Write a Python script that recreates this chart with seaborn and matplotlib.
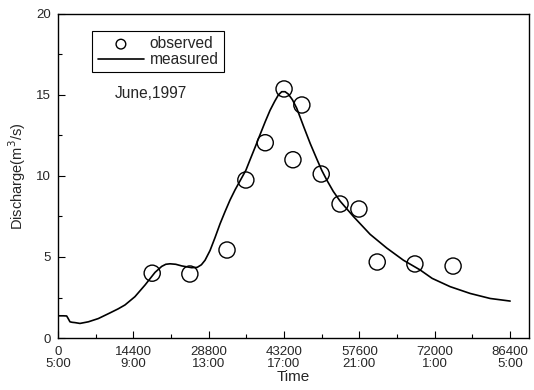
import matplotlib
matplotlib.use("Agg")
import matplotlib.pyplot as plt
from matplotlib.ticker import MultipleLocator
import seaborn as sns
import pandas as pd

# Observed discharge (time in seconds from 5:00, discharge in m^3/s)
obs_time = [18000, 25200, 32300, 35900, 39600, 43200, 44900, 46600,
            50300, 53900, 57500, 61000, 68200, 75500]
obs_q = [4.0, 3.95, 5.43, 9.75, 12.05, 15.37, 11.0, 14.38,
         10.12, 8.27, 7.96, 4.69, 4.57, 4.44]

# Measured hydrograph
meas_time = [0, 1000, 1660, 1950, 2290, 2700, 3250, 4200, 5800, 7700, 9940,
             11500, 12800, 14700, 16630, 18540, 19820, 20600, 21400, 22500,
             23640, 25550, 26600, 27400, 28100, 29055, 30010, 30970, 31920,
             32880, 33830, 34790, 35900, 36700, 37700, 38610, 39600, 40520,
             41400, 42110, 42750, 43400, 44020, 44800, 45620, 46300, 47000,
             48200, 49450, 50400, 51360, 52600, 53900, 56450, 59640, 62830,
             66010, 69200, 71500, 74930, 78760, 82580, 86400]
meas_q = [1.37, 1.37, 1.36, 1.2, 1.0, 0.97, 0.95, 0.9, 1.0, 1.2, 1.55,
          1.8, 2.04, 2.55, 3.27, 4.05, 4.42, 4.55, 4.58, 4.55,
          4.45, 4.34, 4.36, 4.52, 4.8, 5.4, 6.2, 7.05, 7.8,
          8.52, 9.14, 9.7, 10.35, 11.0, 11.8, 12.55, 13.35, 14.05,
          14.6, 15.0, 15.2, 15.2, 15.05, 14.7, 14.18, 13.6, 13.0,
          12.0, 11.05, 10.35, 9.75, 9.05, 8.45, 7.5, 6.4, 5.55,
          4.8, 4.2, 3.68, 3.17, 2.75, 2.44, 2.28]

xticks = [0, 14400, 28800, 43200, 57600, 72000, 86400]
xtick_labels = ["0\n5:00", "14400\n9:00", "28800\n13:00", "43200\n17:00",
                "57600\n21:00", "72000\n1:00", "86400\n5:00"]

sns.set_style("ticks")
plt.rcParams["font.family"] = ["Liberation Sans", "DejaVu Sans"]

fig = plt.figure(figsize=(5.34, 3.90), dpi=100)
ax = fig.add_axes([0.1086, 0.1333, 0.882, 0.831])

meas = pd.DataFrame({"t": meas_time, "q": meas_q})
obs = pd.DataFrame({"t": obs_time, "q": obs_q})

sns.lineplot(data=meas, x="t", y="q", ax=ax, color="black", linewidth=1.2,
             label="measured", sort=False)
sns.scatterplot(data=obs, x="t", y="q", ax=ax, s=135, facecolor="none",
                edgecolor="black", linewidth=1.0, label="observed", zorder=3)

ax.set_xlim(0, 90000)
ax.set_ylim(0, 20)
ax.set_xticks(xticks)
ax.set_xticklabels(xtick_labels, fontsize=9.5, linespacing=0.95)
ax.xaxis.set_minor_locator(MultipleLocator(7200))
ax.yaxis.set_major_locator(MultipleLocator(5))
ax.yaxis.set_minor_locator(MultipleLocator(2.5))
ax.tick_params(axis="y", labelsize=9.5, pad=5)
ax.tick_params(axis="x", pad=6)
ax.tick_params(which="both", direction="in", color="black", width=0.8)
ax.tick_params(which="major", length=5)
ax.tick_params(which="minor", length=3)
for side in ["left", "right", "top", "bottom"]:
    ax.spines[side].set_visible(True)
    ax.spines[side].set_color("black")
    ax.spines[side].set_linewidth(1.0)

ax.set_xlabel("Time", fontsize=11, labelpad=0)
ax.set_ylabel("Discharge(m$^3$/s)", fontsize=10.5, labelpad=6)

handles, labels = ax.get_legend_handles_labels()
order = [labels.index("observed"), labels.index("measured")]
leg = ax.legend([handles[i] for i in order], [labels[i] for i in order],
                loc="upper left", bbox_to_anchor=(0.056, 0.972),
                fontsize=11.2, frameon=True, fancybox=False, framealpha=1,
                edgecolor="black", borderpad=0.35, labelspacing=0.05,
                handlelength=3.0, handletextpad=0.35, markerscale=0.6)
leg.get_frame().set_linewidth(0.8)

ax.text(0.121, 0.74, "June,1997", transform=ax.transAxes, fontsize=11.2)

fig.savefig("out.png", dpi=100)
